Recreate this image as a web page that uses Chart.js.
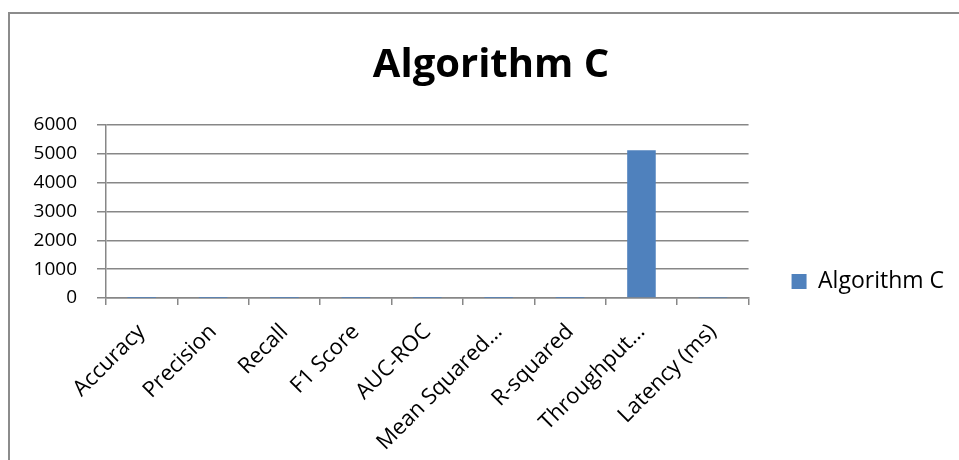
<!DOCTYPE html>
<html>
<head>
<meta charset="utf-8">
<script src="https://cdn.jsdelivr.net/npm/chart.js@4.4.1/dist/chart.umd.min.js"></script>
<style>
  html, body { margin: 0; padding: 0; background: #fff; overflow: hidden; width: 959px; height: 460px; }
  #frame {
    position: absolute; left: 8px; top: 12px;
    width: 962px; height: 535px;
    border: 2px solid #8c8c8c;
  }
  #chart { display: block; }
</style>
</head>
<body>
<div id="frame"><canvas id="chart" width="962" height="535"></canvas></div>
<script>
// values
const categories = ['Accuracy', 'Precision', 'Recall', 'F1 Score', 'AUC-ROC',
                    'Mean Squared…', 'R-squared', 'Throughput…', 'Latency (ms)'];
const algorithmC = [0.91, 0.89, 0.88, 0.88, 0.92, 0.04, 0.82, 5120, 12];
const yTicks = [0, 1000, 2000, 3000, 4000, 5000, 6000];

const FONT = "'Open Sans', 'Liberation Sans', sans-serif";
const GRID = '#878787';
const SIDE = 18;   // same padding both sides keeps the title centred

new Chart(document.getElementById('chart'), {
    type: 'bar',
    data: {
        labels: categories,
        datasets: [{
            label: 'Algorithm C',
            data: algorithmC,
            backgroundColor: '#4f81bd',
            borderWidth: 0,
            categoryPercentage: 1,
            barPercentage: 0.4
        }]
    },
    options: {
        responsive: false,
        animation: false,
        layout: { padding: { left: SIDE, right: SIDE, top: 0, bottom: 0 } },
        plugins: {
            title: {
                display: true,
                text: 'Algorithm C',
                color: '#000',
                font: { family: FONT, size: 40, weight: 'bold', lineHeight: 1.2 },
                padding: { top: 28, bottom: 35 }
            },
            legend: {
                position: 'right',
                labels: {
                    color: '#000',
                    boxWidth: 15,
                    boxHeight: 15,
                    padding: 43,
                    font: { family: FONT, size: 23 }
                }
            },
            tooltip: { enabled: false }
        },
        scales: {
            y: {
                min: 0,
                max: 6000,
                afterBuildTicks: (scale) => { scale.ticks = yTicks.map(v => ({ value: v })); },
                afterFit: (scale) => { scale.width = 96 - SIDE; },
                grid: { color: GRID, lineWidth: 1.5, tickLength: 9 },
                border: { display: true, color: GRID, width: 1.5 },
                ticks: {
                    color: '#000',
                    padding: 20,
                    callback: (v) => String(v),
                    font: { family: FONT, size: 19 }
                }
            },
            x: {
                afterFit: (scale) => { scale.height = 535 - 284; },
                grid: { display: true, drawOnChartArea: false, color: GRID, lineWidth: 1.5, tickLength: 7, offset: true },
                border: { display: true, color: GRID, width: 1.5 },
                ticks: {
                    color: '#000',
                    minRotation: 45,
                    maxRotation: 45,
                    autoSkip: false,
                    padding: 14,
                    font: { family: FONT, size: 22 }
                }
            }
        }
    }
});
</script>
</body>
</html>
